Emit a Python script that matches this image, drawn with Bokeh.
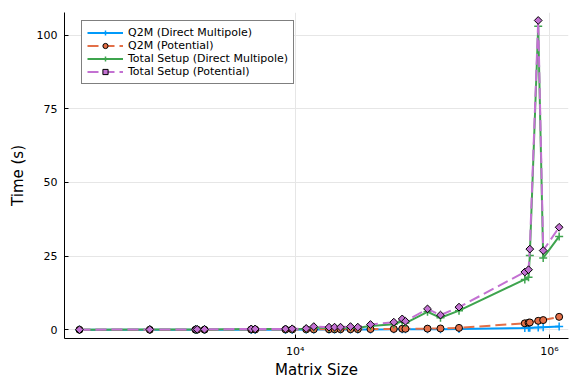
import numpy as np
from bokeh.plotting import figure
from bokeh.models import Range1d, FixedTicker, Legend, LegendItem
from bokeh.embed import file_html
from bokeh.resources import INLINE

# ---- data ----
matrix_size = [201, 718, 1644, 1695, 1935, 4508, 4845, 8389, 9471, 12206, 13996,
               18442, 20385, 22715, 27215, 31065, 39089, 59600, 69450, 73650,
               109800, 138900, 194200, 639500, 684000, 700000, 815000, 892000, 1191000]

q2m_direct = [0.01, 0.02, 0.03, 0.03, 0.03, 0.05, 0.05, 0.06, 0.06, 0.08, 0.08,
              0.09, 0.10, 0.10, 0.10, 0.11, 0.12, 0.15, 0.17, 0.17,
              0.20, 0.22, 0.30, 0.65, 0.70, 0.70, 0.80, 0.85, 1.10]

q2m_potential = [0.02, 0.03, 0.05, 0.05, 0.05, 0.10, 0.10, 0.12, 0.12, 0.15, 0.15,
                 0.18, 0.18, 0.20, 0.20, 0.22, 0.25, 0.30, 0.35, 0.35,
                 0.40, 0.45, 0.65, 2.2, 2.4, 2.5, 3.05, 3.3, 4.4]

total_direct = [0.04, 0.08, 0.12, 0.12, 0.12, 0.25, 0.25, 0.25, 0.30, 0.35, 0.8,
                0.6, 0.6, 0.65, 0.8, 0.7, 1.3, 1.9, 2.9, 2.3,
                6.1, 4.1, 6.5, 17.1, 17.8, 25.2, 103.0, 24.4, 31.7]

total_potential = [0.05, 0.10, 0.15, 0.15, 0.15, 0.30, 0.30, 0.30, 0.35, 0.45, 1.1,
                   0.9, 0.9, 0.9, 1.1, 0.9, 1.8, 2.6, 3.7, 2.9,
                   7.1, 5.0, 7.7, 19.6, 20.4, 27.4, 105.0, 26.9, 34.8]

x_ticks = [10000, 1000000]
x_tick_labels = ["10\u2074", "10\u2076"]
y_ticks = [0, 25, 50, 75, 100]

labels = ["Q2M (Direct Multipole)", "Q2M (Potential)",
          "Total Setup (Direct Multipole)", "Total Setup (Potential)"]

BLUE = "#009AFA"
ORANGE = "#E36F47"
GREEN = "#3EA44E"
PURPLE = "#C371D2"
FONT = "DejaVu Sans"

p = figure(width=569, height=381, x_axis_type="log",
           x_range=Range1d(10 ** 2.1856, 10 ** 6.1494),
           y_range=Range1d(-2.95, 107.7),
           output_backend="svg", toolbar_location=None, title=None,
           min_border_left=64, min_border_right=1, min_border_top=12, min_border_bottom=43)

p.outline_line_color = None
p.background_fill_color = "white"

# axes
p.xaxis.ticker = FixedTicker(ticks=x_ticks)
p.xaxis.major_label_overrides = {t: l for t, l in zip(x_ticks, x_tick_labels)}
p.yaxis.ticker = FixedTicker(ticks=y_ticks)
for ax in (p.xaxis[0], p.yaxis[0]):
    ax.axis_line_color = "black"
    ax.axis_line_width = 1
    ax.major_tick_in = 4
    ax.major_tick_out = 0
    ax.major_tick_line_color = "black"
    ax.minor_tick_line_color = None
    ax.major_label_text_font = FONT
    ax.major_label_text_font_size = "11px"
    ax.major_label_text_color = "black"
    ax.axis_label_text_font = FONT
    ax.axis_label_text_font_size = "15px"
    ax.axis_label_text_font_style = "normal"
    ax.axis_label_text_color = "black"
    ax.major_label_standoff = 7
    ax.axis_label_standoff = 7
p.xaxis.major_label_standoff = 6
p.xaxis.axis_label_standoff = 0
p.xaxis.axis_label = "Matrix Size"
p.yaxis.axis_label = "Time (s)"

p.xgrid.grid_line_color = "#e6e6e6"
p.ygrid.grid_line_color = "#e6e6e6"

DASH = "11 5"

l1 = p.line(matrix_size, q2m_direct, line_color=BLUE, line_width=2)
m1 = p.scatter(matrix_size, q2m_direct, marker="cross", size=8, line_color=BLUE, line_width=1.5)

l2 = p.line(matrix_size, q2m_potential, line_color=ORANGE, line_width=2, line_dash=DASH)
m2 = p.scatter(matrix_size, q2m_potential, marker="circle", size=7, fill_color=ORANGE,
               line_color="black", line_width=1)

l3 = p.line(matrix_size, total_direct, line_color=GREEN, line_width=2)
m3 = p.scatter(matrix_size, total_direct, marker="cross", size=8, line_color=GREEN, line_width=1.5)

l4 = p.line(matrix_size, total_potential, line_color=PURPLE, line_width=2, line_dash=DASH)
m4 = p.scatter(matrix_size, total_potential, marker="square", angle=np.pi / 4, size=5.5,
               fill_color=PURPLE, line_color="black", line_width=1)

legend = Legend(items=[
    LegendItem(label=labels[0], renderers=[l1, m1]),
    LegendItem(label=labels[1], renderers=[l2, m2]),
    LegendItem(label=labels[2], renderers=[l3, m3]),
    LegendItem(label=labels[3], renderers=[l4, m4]),
], location=(17, 254))
legend.glyph_width = 36
legend.glyph_height = 13
legend.label_height = 13
legend.spacing = 0
legend.padding = 5
legend.margin = 0
legend.label_standoff = 5
legend.label_text_font = FONT
legend.label_text_font_size = "11px"
legend.label_text_color = "black"
legend.border_line_color = "black"
legend.border_line_width = 1
legend.background_fill_color = "white"
legend.background_fill_alpha = 1
p.add_layout(legend, "center")

open("out.html", "w").write(file_html(p, INLINE))
